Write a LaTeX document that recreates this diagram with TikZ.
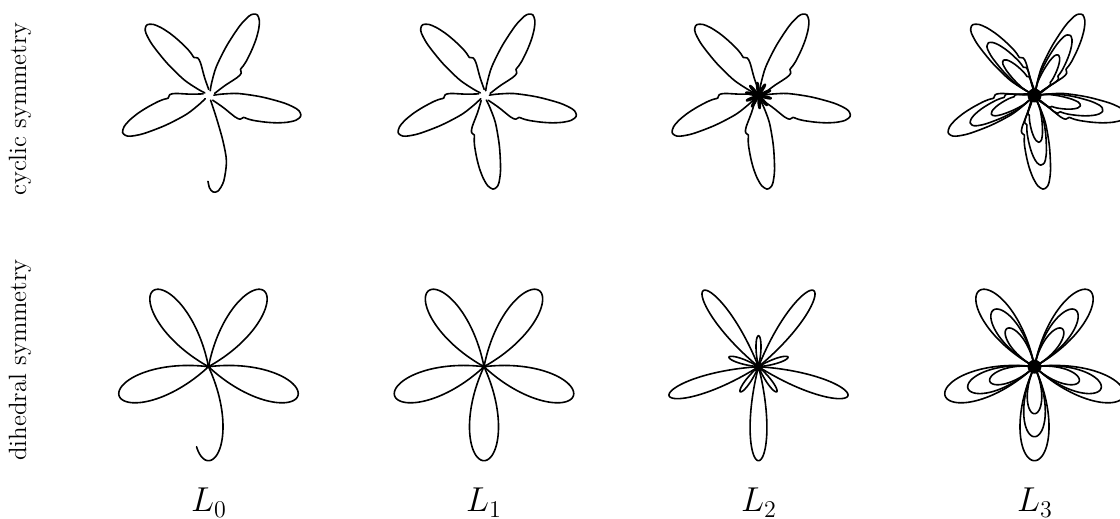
\documentclass[tikz,border=0pt]{standalone}
\usepackage{fontspec}
\begin{document}
\begin{tikzpicture}[x=0.5pt,y=0.5pt,
 curve/.style={line width=0.8pt,line join=round,line cap=round},
 row label/.style={rotate=90,font=\fontsize{12.5}{15}\selectfont},
 layer label/.style={anchor=base,font=\fontsize{17.28}{21}\selectfont},
 cyc petal/.pic={\draw[curve] plot[smooth] coordinates {(0.05,-0.04) (0.175,-0.09) (0.32,-0.16) (0.38,-0.172) (0.41,-0.145) (0.45,-0.15) (0.52,-0.153) (0.65,-0.142) (0.77,-0.122) (0.88,-0.09) (0.96,-0.05) (1,0) (0.985,0.04) (0.94,0.07) (0.8,0.1) (0.55,0.11) (0.3,0.09) (0.13,0.045) (0.05,0.015)};},
 cyc hook/.pic={\draw[curve] plot[smooth] coordinates {(0.05,0.012) (0.239,0.056) (0.487,0.103) (0.698,0.12) (0.903,0.073) (1.0,0.005) (1.004,-0.048) (0.96,-0.08) (0.89,-0.09)};}]
 \useasboundingbox (0,0) rectangle (1120,519);
 \clip (0,0) rectangle (1120,519);
 \coordinate (cyc0) at (209,423.5);
 \coordinate (cyc1) at (484.5,423.5);
 \coordinate (cyc2) at (758.5,423.5);
 \coordinate (cyc3) at (1034.5,423.5);
 \coordinate (dih0) at (208.5,152.3);
 \coordinate (dih1) at (484,152.3);
 \coordinate (dih2) at (758.5,152.3);
 \coordinate (dih3) at (1034.5,152.3);
 % cyclic row
 \foreach \k in {0,...,3}
  \pic[rotate={-12.9+72*\k},scale=94] at (cyc0) {cyc petal};
 \pic[rotate=-84.9,scale=96] at (cyc0) {cyc hook};
 \foreach \k in {0,...,4}{
  \pic[rotate={-12.9+72*\k},scale=94] at (cyc1) {cyc petal};
  \pic[rotate={-12.9+72*\k},scale=94] at (cyc2) {cyc petal};
 }
 \foreach \k in {0,...,9}
  \draw[curve,shift={(cyc2)},rotate={-12.9+36*\k}] plot[domain=-12:12,samples=30] (\x:{13*cos(90*\x/12)});
 \foreach \s in {94,70,47}
  \foreach \k in {0,...,4}
   \pic[rotate={-12.9+72*\k},scale=\s] at (cyc3) {cyc petal};
 \fill (cyc3) circle (7);
 % dihedral row
 \foreach \t in {-18,54,126,198}
  \draw[curve,shift={(dih0)},rotate=\t] plot[domain=-25:25,samples=72] (\x:{94*cos(90*\x/25)});
 \draw[curve,shift={(dih0)},rotate=-90] plot[domain=-8.5:25,samples=50] (\x:{94*cos(90*\x/25)});
 \foreach \t in {-90,-18,54,126,198}{
  \draw[curve,shift={(dih1)},rotate=\t] plot[domain=-25:25,samples=72] (\x:{94*cos(90*\x/25)});
  \draw[curve,shift={(dih2)},rotate=\t] plot[domain=-14.4:14.4,samples=60] (\x:{94*cos(90*\x/14.4)});
  \draw[curve,shift={(dih2)},rotate=\t+180] plot[domain=-13:13,samples=40] (\x:{31*cos(90*\x/13)});
  \foreach \s in {94,70,47}
   \draw[curve,shift={(dih3)},rotate=\t] plot[domain=-25:25,samples=72] (\x:{\s*cos(90*\x/25)});
 }
 \fill (dih3) circle (7);
 % labels
 \node[row label] (cyclab) at (20,410) {cyclic symmetry};
 \node[row label] (dihlab) at (20,159) {dihedral symmetry};
 \node[layer label] (lay0) at (209,7) {$L_0$};
 \node[layer label] (lay1) at (484,7) {$L_1$};
 \node[layer label] (lay2) at (759,7) {$L_2$};
 \node[layer label] (lay3) at (1035,7) {$L_3$};
\end{tikzpicture}
\end{document}
